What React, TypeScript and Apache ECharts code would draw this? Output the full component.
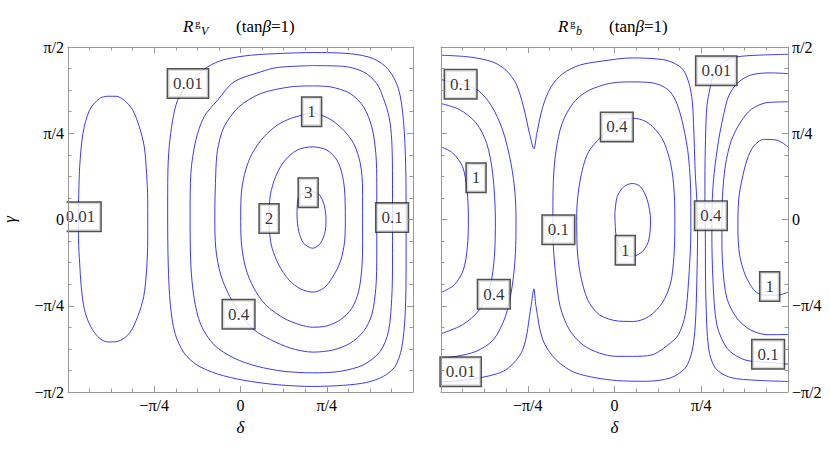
import React, { useEffect, useRef } from "react";
import * as echarts from "echarts";

// ---------- data (δ, γ in degrees; π/2 = 90) ----------
const tickValues = [-90, -45, 0, 45, 90];
const yTickLabels = ["−π/2", "−π/4", "0", "π/4", "π/2"];
const xTickLabels = ["", "−π/4", "0", "π/4", ""];

// Panel 1: R^g_V contours
const V_001_left = [[-84.5,8.4],[-83.9,27.5],[-82.2,44.9],[-78.8,57.0],[-73.6,63.1],[-69.2,64.3],[-64.9,64.3],[-60.6,62.2],[-56.2,57.0],[-52.8,48.4],[-50.2,37.9],[-49.0,24.1],[-48.4,10.2],[-48.4,-10.7],[-49.0,-26.3],[-50.5,-40.2],[-53.6,-50.6],[-57.9,-59.3],[-64.0,-63.6],[-69.2,-63.9],[-73.6,-61.9],[-78.2,-55.8],[-81.4,-47.1],[-83.1,-35.0],[-83.9,-22.8],[-84.5,-10.7],[-84.5,8.4]];
const V_001 = [[-27.3,70.9],[-17.2,79.6],[-8.6,83.4],[5.3,85.7],[22.6,86.7],[37.7,87.1],[57.3,86.5],[69.4,83.9],[77.2,78.2],[82.4,68.3],[85.0,51.8],[86.2,27.5],[86.4,0.6],[86.4,-23.7],[85.9,-49.7],[84.1,-67.1],[80.7,-76.6],[74.6,-81.8],[65.9,-85.0],[53.8,-86.5],[37.7,-87.1],[19.1,-86.2],[1.8,-83.9],[-12.0,-80.6],[-22.4,-76.1],[-29.4,-69.7],[-34.2,-59.3],[-36.6,-44.5],[-37.7,-23.7],[-38.0,2.3],[-37.9,24.1],[-37.2,37.9],[-35.4,51.8],[-32.8,62.2],[-27.3,70.9]];
const V_01 = [[37.7,80.3],[53.8,79.9],[64.2,77.0],[71.1,70.9],[74.6,63.1],[77.5,53.6],[78.9,41.4],[79.3,20.6],[79.3,0.6],[79.3,-23.7],[78.9,-41.1],[77.2,-58.4],[72.9,-68.8],[64.2,-75.8],[52.1,-79.2],[37.7,-80.0],[22.6,-79.2],[8.7,-76.6],[-3.4,-72.3],[-13.8,-65.4],[-20.7,-54.9],[-24.2,-41.1],[-25.9,-23.7],[-26.3,2.3],[-25.9,24.1],[-23.3,41.4],[-19.0,53.6],[-12.0,62.2],[-3.4,71.8],[10.5,77.0],[19.1,79.3],[37.7,80.3]];
const V_04 = [[37.7,69.7],[46.9,69.2],[57.3,65.7],[64.2,58.8],[68.5,48.3],[70.6,34.5],[71.1,18.8],[71.1,0.6],[71.1,-18.5],[70.6,-35.8],[68.5,-49.7],[64.2,-58.4],[57.3,-64.5],[48.6,-68.0],[37.7,-69.2],[26.1,-67.1],[15.7,-62.7],[7.0,-57.5],[0.5,-50.0],[-5.6,-40.2],[-10.3,-28.9],[-12.9,-15.0],[-13.4,2.3],[-12.9,24.1],[-12.0,36.2],[-8.6,48.3],[-0.8,58.8],[10.5,65.7],[26.1,69.2],[37.7,69.7]];
const V_1 = [[37.0,55.7],[42.2,54.4],[47.7,51.8],[53.8,46.6],[59.0,39.7],[62.5,29.3],[63.7,15.4],[63.7,0.6],[63.7,-11.5],[63.3,-25.4],[61.6,-37.6],[58.1,-46.3],[52.1,-52.3],[45.1,-55.5],[37.7,-56.2],[31.3,-55.0],[22.6,-51.5],[13.1,-44.5],[7.0,-35.8],[2.7,-25.4],[0.4,-11.5],[0.1,2.3],[0.6,15.4],[2.7,25.8],[6.1,34.5],[12.2,43.1],[19.1,49.2],[26.1,52.7],[32.1,54.4],[37.0,55.7]];
const V_2 = [[15.0,6.7],[15.7,13.6],[18.3,22.3],[22.6,30.1],[29.5,36.2],[37.7,37.9],[45.1,36.2],[50.3,31.0],[52.9,24.1],[54.3,15.4],[54.7,0.6],[54.3,-11.5],[52.1,-22.0],[47.7,-30.6],[43.4,-35.8],[37.7,-37.9],[31.3,-36.2],[25.2,-31.5],[20.0,-23.7],[16.5,-15.0],[15.3,-8.1],[14.8,-0.3],[15.0,6.7]];
const V_3 = [[37.3,14.5],[40.8,13.3],[43.4,8.4],[44.6,0.6],[44.3,-5.5],[41.7,-12.4],[37.7,-15.0],[33.0,-12.4],[30.4,-6.3],[29.5,2.3],[29.9,10.2],[32.1,13.3],[37.3,14.5]];

const V_labelText = ["0.01", "0.01", "1", "3", "2", "0.1", "0.4"];
const V_labelDelta = [-27.4, -83.5, 37.1, 35.3, 14.9, 79.1, -1.0];
const V_labelGamma = [70.9, 1.5, 56.2, 14.0, 0.5, 1.0, -49.4];

// Panel 2: R^g_b contours
const B_001_main = [[-90,85.7],[-75.3,84.8],[-63.2,82.2],[-56.3,77.9],[-51.1,70.9],[-47.2,58.8],[-44.1,44.9],[-41.8,36.8],[-40.3,44.9],[-37.2,58.8],[-32.9,69.2],[-26.8,76.1],[-18.2,80.5],[-6.1,82.7],[9.2,84.3],[24.7,83.5],[31.0,81.5],[35.8,77.9],[38.8,70.5],[40.3,62.0],[41.0,50.1],[41.9,24.1],[42.7,10.2],[43.1,-6.3],[42.7,-32.4],[41.9,-55.0],[40.2,-68.8],[36.7,-77.5],[28.9,-82.7],[16.1,-84.4],[0.9,-84.0],[-19.9,-80.1],[-30.3,-73.2],[-37.2,-62.8],[-40.7,-45.4],[-41.8,-36.2],[-43.3,-45.4],[-47.6,-67.9],[-56.3,-78.4],[-70.1,-82.7],[-80.0,-84.0],[-90,-84.8]];
const B_01_left = [[-90,73.0],[-79.8,70.6],[-71.0,67.5],[-64.0,59.6],[-58.0,46.6],[-53.7,29.3],[-51.6,13.6],[-51.1,-0.3],[-51.4,-17.6],[-53.1,-35.0],[-56.6,-50.6],[-62.8,-62.7],[-71.8,-68.8],[-82.2,-71.4],[-90,-72.3]];
const B_04_left = [[-90,60.5],[-80.5,57.4],[-71.8,50.4],[-66.3,39.7],[-63.2,24.1],[-61.8,-0.3],[-62.3,-19.3],[-64.6,-35.0],[-70.1,-47.1],[-78.8,-54.9],[-90,-59.6]];
const B_1_left = [[-90,37.9],[-84.0,34.8],[-78.8,27.5],[-76.5,15.4],[-75.8,-0.3],[-76.3,-14.1],[-78.4,-26.3],[-83.1,-34.1],[-90,-38.1]];
const B_01_mid = [[-32.0,-0.3],[-31.7,20.6],[-30.3,36.2],[-27.2,50.1],[-21.6,60.5],[-14.7,66.6],[-6.1,70.1],[0.9,71.5],[9.2,71.8],[19.5,71.3],[25.0,69.5],[29.0,66.5],[32.4,60.5],[35.8,48.3],[38.4,32.7],[39.6,10.2],[39.6,-6.3],[38.4,-32.4],[36.7,-49.7],[33.2,-60.1],[28.9,-64.5],[19.5,-70.6],[9.2,-71.4],[0.9,-71.4],[-7.8,-69.7],[-16.4,-65.4],[-23.4,-57.5],[-28.2,-45.4],[-30.6,-28.0],[-31.7,-14.1],[-32.0,-0.3]];
const B_04_inner = [[3.0,52.5],[10.9,52.7],[17.8,50.1],[24.7,42.3],[29.1,29.3],[31.0,13.6],[31.3,-3.7],[30.8,-19.4],[29.1,-33.2],[24.7,-43.6],[17.8,-50.6],[10.0,-53.2],[2.0,-53.0],[-7.8,-49.7],[-13.9,-41.9],[-17.8,-28.0],[-19.4,-14.1],[-19.6,3.2],[-17.8,20.6],[-13.9,34.5],[-6.9,43.2],[3.0,52.5]];
const B_1_oval = [[0.2,3.2],[1.4,11.9],[4.8,17.1],[9.2,18.8],[13.5,17.1],[17.0,10.2],[18.7,-0.3],[17.8,-10.7],[15.2,-15.9],[11.8,-18.5],[8.3,-19.3],[4.0,-17.6],[0.9,-8.9],[0.2,3.2]];
const B_001_right = [[90,86.2],[73.9,85.7],[63.5,84.8],[56.0,82.0],[51.5,76.0],[49.7,69.2],[47.9,58.8],[47.2,41.4],[46.9,20.6],[46.9,10.2],[47.1,-6.3],[47.4,-41.1],[48.8,-67.1],[52.3,-77.5],[60.1,-82.4],[73.9,-83.9],[90,-84.5]];
const B_01_right = [[90,76.1],[80.8,76.5],[70.4,75.3],[63.5,70.9],[59.5,65.0],[57.5,58.8],[54.0,41.4],[51.7,24.1],[50.7,10.2],[50.5,-6.3],[51.1,-32.4],[53.1,-55.0],[58.3,-67.1],[65.2,-72.3],[71.3,-74.0],[79.6,-74.5],[90,-75.5]];
const B_04_right = [[90,61.4],[79.1,61.0],[71.0,57.5],[65.5,51.0],[60.5,41.0],[57.5,28.0],[56.0,12.0],[55.7,-6.3],[56.1,-23.7],[58.3,-41.1],[63.5,-51.5],[70.4,-57.5],[79.1,-60.1],[90,-60.0]];
const B_1_right = [[90,37.9],[84.3,41.4],[77.4,41.8],[72.2,38.3],[68.7,31.0],[66.1,20.6],[64.4,10.2],[64.0,-4.6],[64.9,-18.5],[67.8,-28.9],[72.2,-36.7],[75.6,-39.0],[80.5,-39.5],[86.0,-39.3],[90,-37.9]];

const B_labelText = ["0.1", "1", "0.4", "0.01", "0.1", "0.4", "1", "0.01", "0.4", "1", "0.1"];
const B_labelDelta = [-79.8, -71.8, -62.6, -79.8, -29.1, 1.2, 5.6, 52.8, 50.0, 80.5, 79.7];
const B_labelGamma = [70.6, 21.8, -39.0, -79.4, -5.3, 48.3, -16.0, 77.6, 2.0, -35.0, -70.3];

// ---------- styling ----------
const FONT = '"Liberation Serif", "Times New Roman", serif';
const LINE = "#3b3bf0";
const FRAME = "#999999";

function tickFmt(labels: string[]) {
  return (v: number) => {
    const i = tickValues.indexOf(Math.round(v));
    return i >= 0 ? labels[i] : "";
  };
}

function axis(extra: any) {
  return {
    type: "value",
    min: -90,
    max: 90,
    interval: 45,
    z: 10,
    axisLine: { show: true, onZero: false, lineStyle: { color: FRAME, width: 1 } },
    axisTick: { show: true, inside: true, length: 6, lineStyle: { color: FRAME, width: 1 } },
    minorTick: { show: true, splitNumber: 4, length: 3.5, lineStyle: { color: FRAME, width: 1 } },
    splitLine: { show: false },
    minorSplitLine: { show: false },
    ...extra,
  };
}

const labelStyle = {
  show: true,
  position: "inside",
  formatter: (p: any) => p.data[2],
  fontFamily: FONT,
  fontSize: 17,
  lineHeight: 18,
  color: "#000",
  backgroundColor: "#fff",
  borderColor: "#262626",
  borderWidth: 1.5,
  padding: [5, 5, 5, 5],
};

function lineSeries(data: number[][], idx: number) {
  return {
    type: "line",
    xAxisIndex: idx,
    yAxisIndex: idx,
    data,
    showSymbol: false,
    symbol: "none",
    smooth: 0.3,
    silent: true,
    clip: true,
    lineStyle: { color: LINE, width: 1 },
    z: 2,
  };
}

function labelSeries(text: string[], d: number[], g: number[], idx: number) {
  return {
    type: "scatter",
    xAxisIndex: idx,
    yAxisIndex: idx,
    data: text.map((t, i) => [d[i], g[i], t]),
    symbolSize: 0,
    itemStyle: { color: "transparent" },
    silent: true,
    label: labelStyle,
    z: 5,
  };
}

function titleTexts(x: number, sub: string, parenX: number) {
  return [
    { type: "text", left: x, top: 18, style: { text: "R", fontFamily: FONT, fontStyle: "italic", fontSize: 17, fill: "#000" } },
    { type: "text", left: x + 12, top: 17, style: { text: "g", fontFamily: FONT, fontSize: 11, fill: "#000" } },
    { type: "text", left: x + 18, top: 25, style: { text: sub, fontFamily: FONT, fontStyle: "italic", fontSize: 12, fill: "#000" } },
    {
      type: "text",
      left: parenX,
      top: 18,
      style: {
        text: "{n|(tan}{b|β}{n|=1)}",
        rich: {
          n: { fontFamily: FONT, fontSize: 17, fill: "#000" },
          b: { fontFamily: FONT, fontSize: 17, fontStyle: "italic", fill: "#000" },
        },
      },
    },
  ];
}

export default function App() {
  const ref = useRef<HTMLDivElement>(null);
  useEffect(() => {
    if (!ref.current) return;
    const chart = echarts.init(ref.current, undefined, { renderer: "svg" });
    const p1 = [V_001_left, V_001, V_01, V_04, V_1, V_2, V_3];
    const p2 = [B_001_main, B_01_left, B_04_left, B_1_left, B_01_mid, B_04_inner, B_1_oval, B_001_right, B_01_right, B_04_right, B_1_right];
    const tickLabelStyle = { fontFamily: FONT, fontSize: 16, color: "#000" };
    const nameStyle = { fontFamily: FONT, fontStyle: "italic", fontSize: 17, color: "#000" };
    chart.setOption({
      animation: false,
      grid: [
        { left: 67, top: 47, width: 346, height: 345 },
        { left: 441, top: 47, width: 347, height: 345 },
      ],
      xAxis: [
        axis({ gridIndex: 0, position: "bottom", axisLabel: { ...tickLabelStyle, margin: 5, formatter: tickFmt(xTickLabels) }, name: "δ", nameLocation: "middle", nameGap: 27, nameTextStyle: nameStyle }),
        axis({ gridIndex: 0, position: "top", axisLabel: { show: false } }),
        axis({ gridIndex: 1, position: "bottom", axisLabel: { ...tickLabelStyle, margin: 5, formatter: tickFmt(xTickLabels) }, name: "δ", nameLocation: "middle", nameGap: 27, nameTextStyle: nameStyle }),
        axis({ gridIndex: 1, position: "top", axisLabel: { show: false } }),
      ],
      yAxis: [
        axis({ gridIndex: 0, position: "left", axisLabel: { ...tickLabelStyle, margin: 4, formatter: tickFmt(yTickLabels) }, name: "γ", nameLocation: "middle", nameGap: 50, nameRotate: 90, nameTextStyle: nameStyle }),
        axis({ gridIndex: 0, position: "right", axisLabel: { show: false } }),
        axis({ gridIndex: 1, position: "right", axisLabel: { ...tickLabelStyle, margin: 4, formatter: tickFmt(yTickLabels) } }),
        axis({ gridIndex: 1, position: "left", axisLabel: { show: false } }),
      ],
      series: [
        ...p1.map((d) => lineSeries(d, 0)),
        ...p2.map((d) => lineSeries(d, 2)),
        labelSeries(V_labelText, V_labelDelta, V_labelGamma, 0),
        labelSeries(B_labelText, B_labelDelta, B_labelGamma, 2),
      ],
      graphic: [
        // white mask left of panel 1 frame: clips the contour label that overflows the frame
        { type: "rect", z: 8, shape: { x: 30, y: 47, width: 36.5, height: 345 }, style: { fill: "#fff" }, silent: true },
        ...titleTexts(183, "V", 236),
        ...titleTexts(558, "b", 609),
      ],
    });
    return () => chart.dispose();
  }, []);
  return (
    <div
      ref={ref}
      style={{ position: "fixed", left: 0, top: 0, width: 830, height: 455, background: "#fff" }}
    />
  );
}
